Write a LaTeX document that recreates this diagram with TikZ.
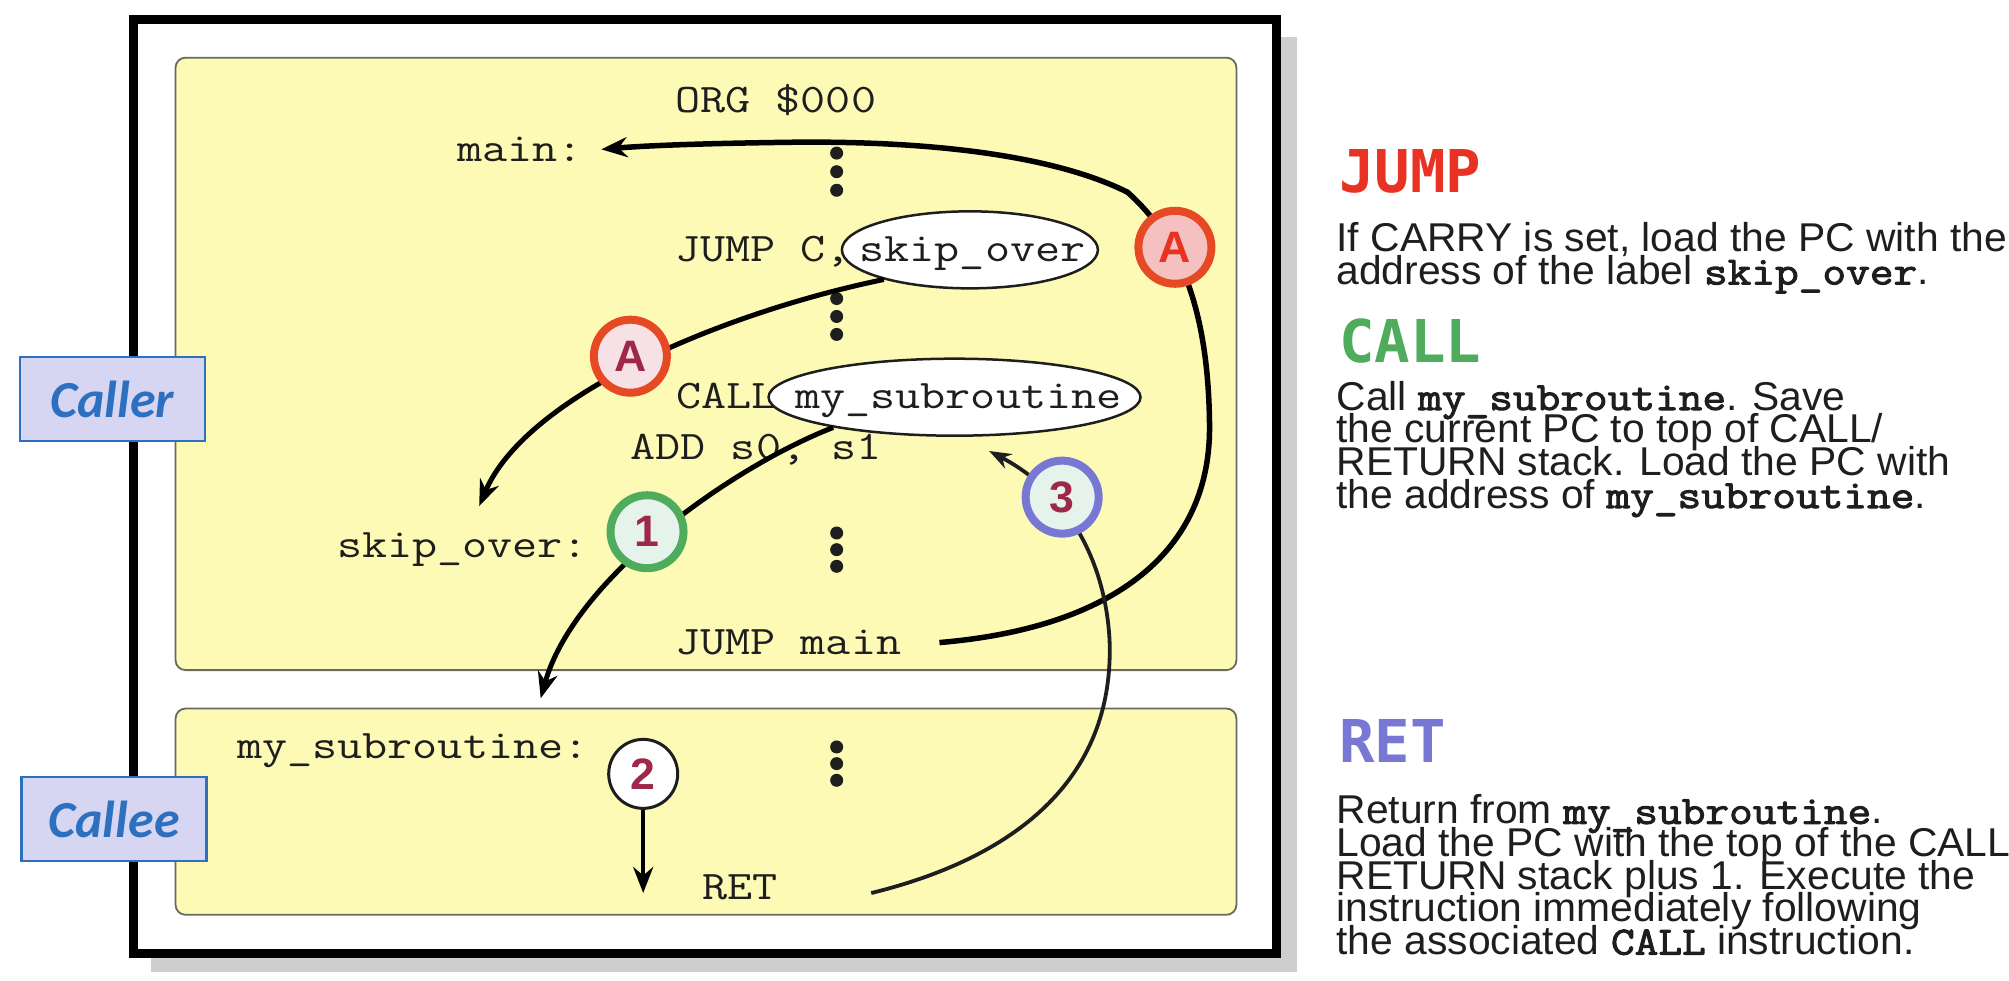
\documentclass[tikz,border=0pt]{standalone}
\usepackage{fontspec}
\setmainfont{Liberation Sans}[FakeStretch=1.015]
\newfontfamily\codefont[FakeStretch=1.2]{Latin Modern Mono}
\newfontfamily\codeboldfont[FakeStretch=1.15,FakeBold=2.5]{Latin Modern Mono}
\newfontfamily\headfont{DejaVu Sans Mono}
\newfontfamily\labfont{Carlito}
\usetikzlibrary{arrows.meta,shapes.geometric}
\newcommand{\inlcode}[1]{{\codeboldfont\fontsize{40}{40}\selectfont #1}}
\definecolor{boxyellow}{RGB}{253,250,182}
\definecolor{boxedge}{RGB}{105,105,95}
\definecolor{lav}{RGB}{214,214,242}
\definecolor{labblue}{RGB}{46,112,192}
\definecolor{jred}{RGB}{232,50,36}
\definecolor{cgreen}{RGB}{78,172,92}
\definecolor{rpurple}{RGB}{120,120,212}
\definecolor{ringred}{RGB}{230,74,36}
\definecolor{maroon}{RGB}{158,40,72}
\definecolor{mint}{RGB}{230,243,236}
\definecolor{pinkA}{RGB}{244,192,192}
\definecolor{pinkB}{RGB}{246,226,230}
\definecolor{shadowgray}{RGB}{206,206,206}
\definecolor{ink}{RGB}{30,30,30}
\begin{document}
\begin{tikzpicture}[x=1.2813pt,y=-1.2813pt,
  codetxt/.style={font=\codefont\fontsize{40.6}{44}\selectfont, inner sep=0pt, anchor=base west, text=ink},
  codeell/.style={ellipse, draw=ink, line width=2.5pt, fill=white, inner sep=0pt, minimum height=77pt},
  badge/.style={circle, minimum size=73pt, line width=8pt, inner sep=0pt, font=\fontsize{44}{44}\selectfont\bfseries},
  arrowline/.style={line width=5pt, draw=black, -{Stealth[length=26pt,width=20pt]}},
  thinarrow/.style={line width=3.8pt, draw=ink, -{Stealth[length=22pt,width=16pt]}},
  labbox/.style={draw=labblue, line width=2.2pt, fill=lav, minimum width=185pt, minimum height=84pt, inner sep=0pt, font=\labfont\bfseries\itshape\fontsize{52}{52}\selectfont, text=labblue},
  codebox/.style={fill=boxyellow, draw=boxedge, line width=1.8pt, rounded corners=10pt},
  hd/.style={anchor=base west, inner sep=0pt, font=\headfont\bfseries\fontsize{59}{59}\selectfont},
  rt/.style={anchor=base west, inner sep=0pt, font=\fontsize{40.2}{40}\selectfont, text=ink},
  dot/.style={fill=ink}
]
\useasboundingbox (0,0) rectangle (1568,765);
% frame with shadow
\fill[shadowgray] (118,29) rectangle (1012,759);
\draw[line width=9pt, fill=white] (104,15.6) rectangle (996,744);
% code boxes
\path[codebox] (137,45) rectangle (965,523);
\path[codebox] (137,553) rectangle (965,714);
% side labels
\node[labbox] (caller) at (87.5,311.5) {Caller};
\node[labbox] (callee) at (89,639.5) {Callee};
% code text
\node[codetxt] (org) at (527,87.5) {ORG \$000};
\node[codetxt] (mainl) at (357,126) {main:};
\node[codetxt] (jumpc) at (527,204) {JUMP C,};
\node[codetxt] (calll) at (528,319) {CALL};
\node[codetxt] (addl) at (492,359) {ADD s0, s1};
\node[codetxt] (skipl) at (263,435) {skip\_over:};
\node[codetxt] (jmain) at (527,511) {JUMP main};
\node[codetxt] (msubl) at (185,592) {my\_subroutine:};
\node[codetxt] (retl) at (548,702) {RET};
% ellipses
\node[codeell, minimum width=256pt] (skel) at (757,195) {};
\node[codetxt, anchor=base] (sktxt) at (759,204) {skip\_over};
\node[codeell, minimum width=372pt] (msel) at (745,310) {};
\node[codetxt, anchor=base] (mstxt) at (748,319) {my\_subroutine};
% vertical dots
\foreach \yy in {119.5,134,148.5, 233,247,261, 416,429,442, 583,596,609}
  \fill[dot] (653,\yy) circle (6.5pt);
% connectors
\draw[arrowline, line width=5.5pt] ([xshift=38pt]jmain.east) .. controls (870,490) and (946,430) .. (944,330)
   .. controls (943,250) and (925,190) .. (880,150)
   .. controls (820,120) and (720,110) .. (620,111)
   .. controls (540,112) and (500,114) .. ([xshift=18pt]mainl.east);
\coordinate (skipend) at (374,395);
\draw[arrowline] (skel.199) .. controls (560,245) and (410,310) .. (skipend);
\coordinate (callend) at (422,545);
\draw[arrowline] (msel.194) .. controls (570,365) and (448,452) .. (callend);
\coordinate (retend) at (502,697);
\coordinate (retstart) at (680,697);
\coordinate (backend) at (772,352);
\draw[thinarrow] (retstart) .. controls (790,670) and (870,610) .. (866,500)
   .. controls (863,440) and (835,385) .. (backend);
% badges
\node[badge, draw=ringred, fill=pinkA, text=jred] (A1) at (917,193) {A};
\node[badge, draw=ringred, fill=pinkB, text=maroon] (A2) at (492,278) {A};
\node[badge, draw=cgreen, fill=mint, text=maroon] (one) at (505,415) {1};
\node[badge, draw=ink, line width=3pt, fill=white, text=maroon, minimum size=69pt] (two) at (502,604) {2};
\node[badge, draw=rpurple, fill=mint, text=maroon] (three) at (829,388) {3};
\draw[arrowline, line width=4.5pt] (two.south) -- (retend);
% right-hand descriptions
\node[hd, text=jred] (hjump) at (1045,150) {JUMP};
\node[rt] (j1) at (1043,196) {If CARRY is set, load the PC with the};
\node[rt] (j2) at (1043,222) {address of the label \inlcode{skip\_over}.};
\node[hd, text=cgreen] (hcall) at (1045,283) {CALL};
\node[rt] (c1) at (1043,320) {Call \inlcode{my\_subroutine}. Save};
\node[rt] (c2) at (1043,345.5) {the current PC to top of CALL/};
\node[rt] (c3) at (1043,371) {RETURN stack. Load the PC with};
\node[rt] (c4) at (1043,396.5) {the address of \inlcode{my\_subroutine}.};
\node[hd, text=rpurple] (hret) at (1045,595) {RET};
\node[rt] (r1) at (1043,643) {Return from \inlcode{my\_subroutine}.};
\node[rt] (r2) at (1043,668.5) {Load the PC with the top of the CALL/};
\node[rt] (r3) at (1043,694) {RETURN stack plus 1. Execute the};
\node[rt] (r4) at (1043,719.5) {instruction immediately following};
\node[rt] (r5) at (1043,745) {the associated \inlcode{CALL} instruction.};
\end{tikzpicture}
\end{document}
